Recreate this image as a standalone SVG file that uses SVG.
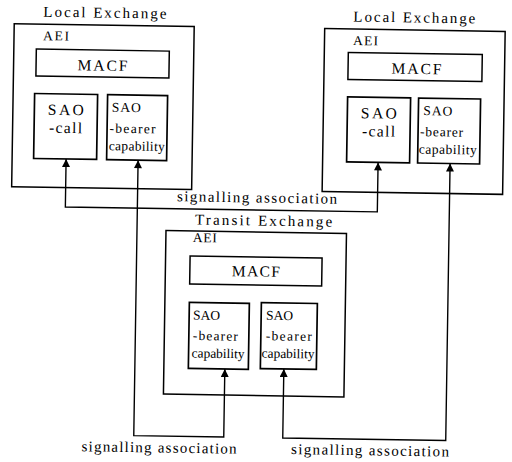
<svg xmlns="http://www.w3.org/2000/svg" width="512" height="462" viewBox="0 0 512 462">
  <style>
    text { font-family: "Liberation Serif", "DejaVu Serif", serif; fill: #000; }
    .title { font-size: 15px; }
    .aei { font-size: 13.5px; }
    .macf-label { font-size: 15.5px; text-anchor: middle; }
    .call { font-size: 15.5px; text-anchor: middle; }
    .bearer { font-size: 13.5px; }
    .assoc { font-size: 15px; }
    .exchange { fill: none; stroke: #000; stroke-width: 1.5; }
    .macf { fill: none; stroke: #000; stroke-width: 1.5; }
    .sao { fill: none; stroke: #000; stroke-width: 1.7; }
    .link { fill: none; stroke: #000; stroke-width: 1.4; marker-start: url(#head-start); marker-end: url(#head); }
  </style>
  <defs>
    <marker id="head" viewBox="0 0 10 10" refX="10" refY="5" markerWidth="9" markerHeight="8" markerUnits="userSpaceOnUse" orient="auto">
      <path d="M0,0 L10,5 L0,10 Z" fill="#000"/>
    </marker>
    <marker id="head-start" viewBox="0 0 10 10" refX="10" refY="5" markerWidth="9" markerHeight="8" markerUnits="userSpaceOnUse" orient="auto-start-reverse">
      <path d="M0,0 L10,5 L0,10 Z" fill="#000"/>
    </marker>
  </defs>
  <rect x="0" y="0" width="512" height="462" fill="#fff"/>

  <g transform="rotate(0.9 256 231)">
    <!-- Local exchange, left -->
    <g id="local-exchange-left">
      <text class="title" x="40" y="20" textLength="123" lengthAdjust="spacing">Local Exchange</text>
      <rect class="exchange" x="11" y="27.5" width="180" height="163"/>
      <text class="aei" x="40" y="43.5" textLength="26" lengthAdjust="spacing">AEI</text>
      <g id="macf-left">
        <rect class="macf" x="33.5" y="52.5" width="133" height="27"/>
        <text class="macf-label" x="100" y="73" textLength="50" lengthAdjust="spacing">MACF</text>
      </g>
      <g id="sao-call-left">
        <rect class="sao" x="32.5" y="97" width="63" height="65"/>
        <text class="call" x="64" y="118" textLength="36" lengthAdjust="spacing">SAO</text>
        <text class="call" x="64" y="136" textLength="33" lengthAdjust="spacing">-call</text>
      </g>
      <g id="sao-bearer-left">
        <rect class="sao" x="105.5" y="97" width="60" height="65"/>
        <text class="bearer" x="110" y="114" textLength="29" lengthAdjust="spacing">SAO</text>
        <text class="bearer" x="108" y="135" textLength="46" lengthAdjust="spacing">-bearer</text>
        <text class="bearer" x="107.5" y="152.5" textLength="56" lengthAdjust="spacing">capability</text>
      </g>
    </g>

    <!-- Local exchange, right -->
    <g id="local-exchange-right">
      <text class="title" x="350" y="20" textLength="122" lengthAdjust="spacing">Local Exchange</text>
      <rect class="exchange" x="321.5" y="27.5" width="180.5" height="163"/>
      <text class="aei" x="350" y="43.5" textLength="25" lengthAdjust="spacing">AEI</text>
      <g id="macf-right">
        <rect class="macf" x="345.5" y="51" width="134" height="27"/>
        <text class="macf-label" x="414" y="71.5" textLength="50" lengthAdjust="spacing">MACF</text>
      </g>
      <g id="sao-call-right">
        <rect class="sao" x="345.5" y="95.5" width="63" height="65"/>
        <text class="call" x="377" y="116.5" textLength="36" lengthAdjust="spacing">SAO</text>
        <text class="call" x="377" y="134.5" textLength="33" lengthAdjust="spacing">-call</text>
      </g>
      <g id="sao-bearer-right">
        <rect class="sao" x="416.5" y="95.5" width="62" height="65"/>
        <text class="bearer" x="421.5" y="112.5" textLength="29" lengthAdjust="spacing">SAO</text>
        <text class="bearer" x="418.5" y="133.5" textLength="43" lengthAdjust="spacing">-bearer</text>
        <text class="bearer" x="417.5" y="151" textLength="58" lengthAdjust="spacing">capability</text>
      </g>
    </g>

    <!-- Transit exchange -->
    <g id="transit-exchange">
      <text class="title" x="195" y="225.5" textLength="137" lengthAdjust="spacing">Transit Exchange</text>
      <rect class="exchange" x="166" y="232" width="180.5" height="163.5"/>
      <text class="aei" x="193" y="243" textLength="24" lengthAdjust="spacing">AEI</text>
      <g id="macf-transit">
        <rect class="macf" x="190.5" y="257" width="132" height="28"/>
        <text class="macf-label" x="256.5" y="276.5" textLength="48" lengthAdjust="spacing">MACF</text>
      </g>
      <g id="sao-bearer-transit-a">
        <rect class="sao" x="190.5" y="303.5" width="60" height="66"/>
        <text class="bearer" x="194.5" y="320.5" textLength="27" lengthAdjust="spacing">SAO</text>
        <text class="bearer" x="194.5" y="341" textLength="45" lengthAdjust="spacing">-bearer</text>
        <text class="bearer" x="193.5" y="358.5" textLength="53" lengthAdjust="spacing">capability</text>
      </g>
      <g id="sao-bearer-transit-b">
        <rect class="sao" x="262.5" y="302.5" width="56" height="66"/>
        <text class="bearer" x="267.5" y="319.5" textLength="27" lengthAdjust="spacing">SAO</text>
        <text class="bearer" x="267.5" y="340" textLength="46" lengthAdjust="spacing">-bearer</text>
        <text class="bearer" x="263.5" y="357.5" textLength="53" lengthAdjust="spacing">capability</text>
      </g>
    </g>

    <!-- Signalling associations -->
    <g id="connectors">
      <path class="link" d="M65,162 V210 H377 V160.5"/>
      <path class="link" d="M137,162 V437.5 H227 V369.5"/>
      <path class="link" d="M286,368.5 V437.5 H449 V160.5"/>
      <text class="assoc" x="176.5" y="202.5" textLength="160" lengthAdjust="spacing">signalling association</text>
      <text class="assoc" x="85" y="454" textLength="155" lengthAdjust="spacing">signalling association</text>
      <text class="assoc" x="294.5" y="453.5" textLength="158" lengthAdjust="spacing">signalling association</text>
    </g>
  </g>
</svg>
